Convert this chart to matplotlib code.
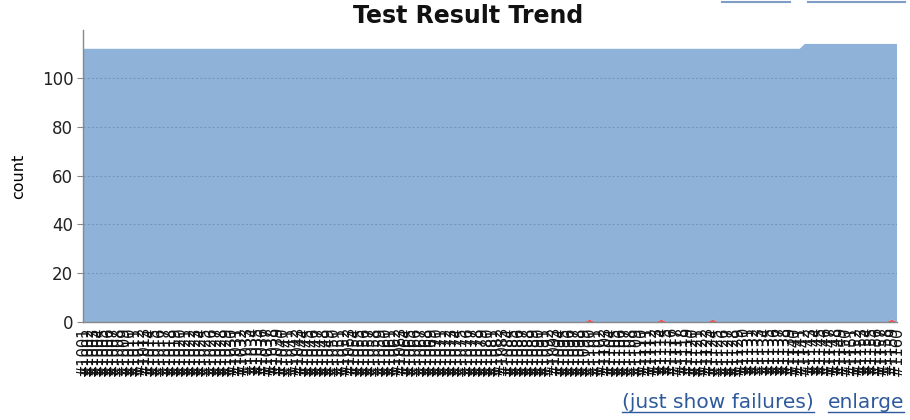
import numpy as np
import matplotlib
matplotlib.use("Agg")
import matplotlib.pyplot as plt
from matplotlib.lines import Line2D

# ---------------- data ----------------
builds = list(range(1001, 1161))            # build numbers (labels unreadable in reference)
labels = ["#%d" % b for b in builds]

passed = [
    112, 112, 112, 112, 112, 112, 112, 112, 112, 112, 112, 112, 112, 112, 112, 112, 112, 112, 112, 112,
    112, 112, 112, 112, 112, 112, 112, 112, 112, 112, 112, 112, 112, 112, 112, 112, 112, 112, 112, 112,
    112, 112, 112, 112, 112, 112, 112, 112, 112, 112, 112, 112, 112, 112, 112, 112, 112, 112, 112, 112,
    112, 112, 112, 112, 112, 112, 112, 112, 112, 112, 112, 112, 112, 112, 112, 112, 112, 112, 112, 112,
    112, 112, 112, 112, 112, 112, 112, 112, 112, 112, 112, 112, 112, 112, 112, 112, 112, 112, 112, 111,
    112, 112, 112, 112, 112, 112, 112, 112, 112, 112, 112, 112, 112, 111, 112, 112, 112, 112, 112, 112,
    112, 112, 112, 111, 112, 112, 112, 112, 112, 112, 112, 112, 112, 112, 112, 112, 112, 112, 112, 112,
    112, 114, 114, 114, 114, 114, 114, 114, 114, 114, 114, 114, 114, 114, 114, 114, 114, 114, 113, 114,
]
failed = [
    0, 0, 0, 0, 0, 0, 0, 0, 0, 0, 0, 0, 0, 0, 0, 0, 0, 0, 0, 0,
    0, 0, 0, 0, 0, 0, 0, 0, 0, 0, 0, 0, 0, 0, 0, 0, 0, 0, 0, 0,
    0, 0, 0, 0, 0, 0, 0, 0, 0, 0, 0, 0, 0, 0, 0, 0, 0, 0, 0, 0,
    0, 0, 0, 0, 0, 0, 0, 0, 0, 0, 0, 0, 0, 0, 0, 0, 0, 0, 0, 0,
    0, 0, 0, 0, 0, 0, 0, 0, 0, 0, 0, 0, 0, 0, 0, 0, 0, 0, 0, 1,
    0, 0, 0, 0, 0, 0, 0, 0, 0, 0, 0, 0, 0, 1, 0, 0, 0, 0, 0, 0,
    0, 0, 0, 1, 0, 0, 0, 0, 0, 0, 0, 0, 0, 0, 0, 0, 0, 0, 0, 0,
    0, 0, 0, 0, 0, 0, 0, 0, 0, 0, 0, 0, 0, 0, 0, 0, 0, 0, 1, 0,
]
yticks = [0, 20, 40, 60, 80, 100]

# ---------------- figure ----------------
W, H = 910, 420
fig = plt.figure(figsize=(W / 100, H / 100), dpi=100)
fig.patch.set_facecolor("white")
ax = fig.add_axes([83 / W, 1 - 322 / H, (897 - 83) / W, (322 - 30) / H])

x = np.arange(len(builds))
total_max = max(p + f for p, f in zip(passed, failed))

# gridlines behind the translucent area
ax.set_axisbelow(True)
ax.yaxis.grid(True, color="#555555", linestyle=(0, (2.5, 2.5)), linewidth=0.6)

ax.stackplot(x, failed, passed, colors=["#EF2929", "#729FCF"], alpha=0.8, linewidth=0)

ax.set_xlim(0, len(builds) - 1)
ax.set_ylim(0, total_max * 1.05)
ax.set_yticks(yticks)
ax.set_yticklabels([str(v) for v in yticks], fontsize=12, color="#222222")
ax.set_xticks(x)
ax.set_xticklabels(labels, rotation=90, fontsize=10.5, color="#111111")
ax.tick_params(axis="x", length=0, pad=3)
ax.tick_params(axis="y", length=4, width=0.8, color="#888888", pad=3)

for s in ("top", "right"):
    ax.spines[s].set_visible(False)
for s in ("left", "bottom"):
    ax.spines[s].set_color("#888888")
    ax.spines[s].set_linewidth(1.0)

ax.set_ylabel("count", fontsize=11.5, labelpad=8)
ax.yaxis.set_label_coords(-(83 - 26) / (897 - 83), 0.5)

fig.text(468 / W, 1 - 16 / H, "Test Result Trend", ha="center", va="center",
         fontsize=17, fontweight="bold", color="#111111")

# bottom links
link_color = "#2e5a9c"
t1 = fig.text(622 / W, 1 - 403 / H, "(just show failures)", ha="left", va="center",
              fontsize=14.5, color=link_color)
t2 = fig.text(904 / W, 1 - 403 / H, "enlarge", ha="right", va="center",
              fontsize=14.5, color=link_color)
fig.canvas.draw()
r = fig.canvas.get_renderer()
for t in (t1, t2):
    bb = t.get_window_extent(r)
    yline = (bb.y0 + 1) / H
    fig.add_artist(Line2D([bb.x0 / W, bb.x1 / W], [yline, yline],
                          transform=fig.transFigure, color=link_color, lw=1))

# cut-off links at top right (only underlines visible)
for x0, x1 in ((722, 790), (808, 905)):
    fig.add_artist(Line2D([x0 / W, x1 / W], [1 - 2 / H, 1 - 2 / H],
                          transform=fig.transFigure, color="#7f9cc4", lw=1.5))

fig.savefig("out.png", dpi=100, facecolor="white")
